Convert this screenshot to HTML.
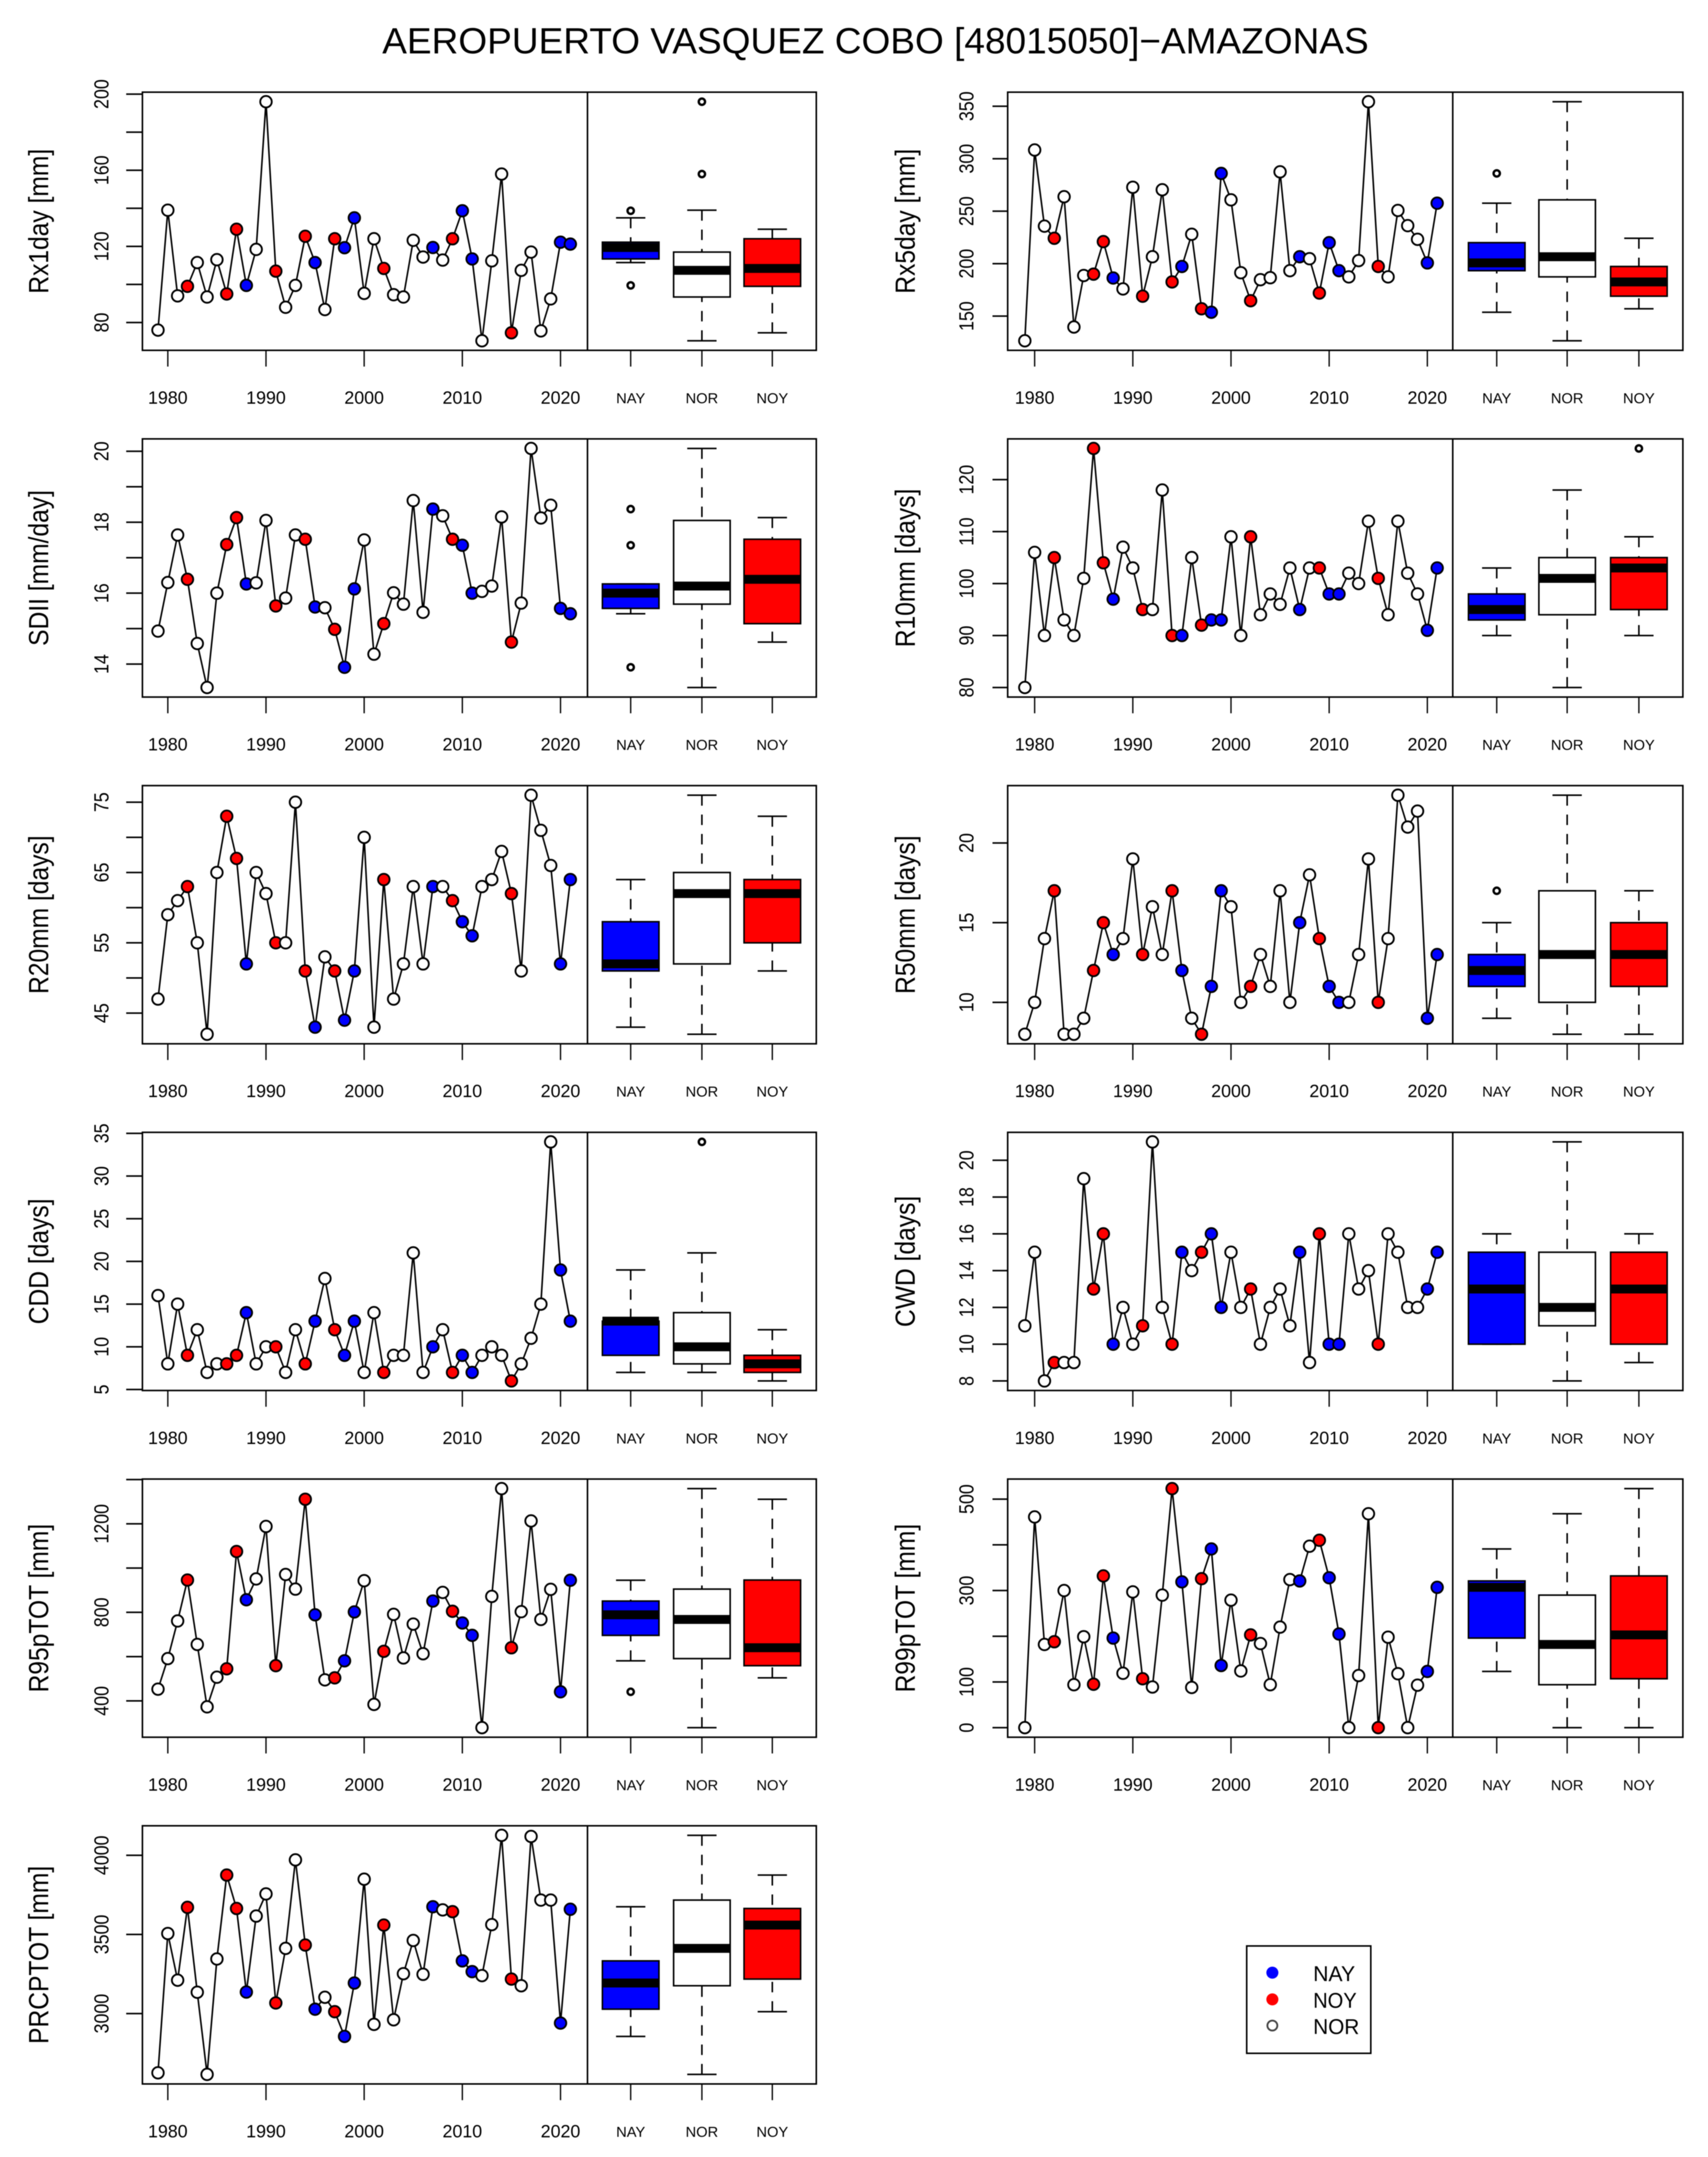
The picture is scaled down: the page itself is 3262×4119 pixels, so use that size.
<!DOCTYPE html>
<html lang="en">
<head>
<meta charset="utf-8">
<title>AEROPUERTO VASQUEZ COBO [48015050]-AMAZONAS</title>
<style>
html,body{margin:0;padding:0;background:#fff;width:3262px;height:4119px;overflow:hidden}
svg{display:block;filter:blur(0.8px)}
text{font-family:"Liberation Sans",Arial,sans-serif;fill:#000}
</style>
</head>
<body>
<svg id="chart" xmlns="http://www.w3.org/2000/svg" width="3262" height="4119" viewBox="0 0 3262 4119">
<rect x="0" y="0" width="3262" height="4119" fill="#fff"/>
<text x="730" y="102" font-size="70" textLength="1884" lengthAdjust="spacingAndGlyphs">AEROPUERTO VASQUEZ COBO [48015050]−AMAZONAS</text>
<g>
<rect x="2381" y="3716" width="237" height="205" fill="#fff" stroke="#000" stroke-width="3"/>
<circle cx="2430" cy="3767" r="11.5" fill="#0000ff"/>
<circle cx="2430" cy="3818" r="11.5" fill="#ff0000"/>
<circle cx="2430" cy="3868" r="9.5" fill="#fff" stroke="#444" stroke-width="3.5"/>
<text x="2508" y="3783" font-size="41" textLength="80" lengthAdjust="spacingAndGlyphs">NAY</text>
<text x="2508" y="3834" font-size="41" textLength="83" lengthAdjust="spacingAndGlyphs">NOY</text>
<text x="2508" y="3884" font-size="41" textLength="88" lengthAdjust="spacingAndGlyphs">NOR</text>
</g>
</svg>
<script>
var years = [1979,1980,1981,1982,1983,1984,1985,1986,1987,1988,1989,1990,1991,1992,1993,1994,1995,1996,1997,1998,1999,2000,2001,2002,2003,2004,2005,2006,2007,2008,2009,2010,2011,2012,2013,2014,2015,2016,2017,2018,2019,2020,2021];
var enso = ["NOR","NOR","NOR","NOY","NOR","NOR","NOR","NOY","NOY","NAY","NOR","NOR","NOY","NOR","NOR","NOY","NAY","NOR","NOY","NAY","NAY","NOR","NOR","NOY","NOR","NOR","NOR","NOR","NAY","NOR","NOY","NAY","NAY","NOR","NOR","NOR","NOY","NOR","NOR","NOR","NOR","NAY","NAY"];
var yearTicks = [1980,1990,2000,2010,2020];
var boxGroups = ["NAY","NOR","NOY"];

var rx1dayValues = [76,139,94,99,111.5,93.4,113,95,129,99.5,118.4,196,107,88,99.5,125.3,111.5,86.8,124,119.3,135,95.3,124,108.4,94.6,93.4,123.2,114.4,119.4,112.8,124,138.7,113.4,70.4,112.4,158,74.6,107.4,117,75.6,92.4,122.2,121.2];
var rx1dayTicks = [80,100,120,140,160,180,200];
var rx1dayLabels = [80,120,160,200];

var rx5dayValues = [126.5,308.3,235.7,224.2,263.8,139.6,188.7,190,221,186.3,175.9,272.8,169,206.6,270.4,182.6,197.3,228,157,153.7,286,260.8,191.4,164.7,184.7,186.6,287.5,193.3,206.6,204.7,172,220,193.3,187.4,202.9,354.3,197.3,187.4,250.7,236.2,223.2,200.7,257.6];
var rx5dayTicks = [150,200,250,300,350];
var rx5dayLabels = [150,200,250,300,350];

var sdiiValues = [14.93,16.30,17.64,16.39,14.58,13.34,16.0,17.37,18.13,16.26,16.29,18.05,15.64,15.86,17.64,17.52,15.61,15.59,14.98,13.91,16.12,17.50,14.28,15.14,16.01,15.69,18.61,15.46,18.37,18.18,17.52,17.35,16.0,16.05,16.2,18.15,14.62,15.72,20.08,18.12,18.48,15.57,15.42];
var sdiiTicks = [14,15,16,17,18,19,20];
var sdiiLabels = [14,16,18,20];

var r10mmValues = [80,106,90,105,93,90,101,126,104,97,107,103,95,95,118,90,90,105,92,93,93,109,90,109,94,98,96,103,95,103,103,98,98,102,100,112,101,94,112,102,98,91,103];
var r10mmTicks = [80,90,100,110,120];
var r10mmLabels = [80,90,100,110,120];

var r20mmValues = [47,59,61,63,55,42,65,73,67,52,65,62,55,55,75,51,43,53,51,44,51,70,43,64,47,52,63,52,63,63,61,58,56,63,64,68,62,51,76,71,66,52,64];
var r20mmTicks = [45,50,55,60,65,70,75];
var r20mmLabels = [45,55,65,75];

var r50mmValues = [8,10,14,17,8,8,9,12,15,13,14,19,13,16,13,17,12,9,8,11,17,16,10,11,13,11,17,10,15,18,14,11,10,10,13,19,10,14,23,21,22,9,13];
var r50mmTicks = [10,15,20];
var r50mmLabels = [10,15,20];

var cddValues = [16,8,15,9,12,7,8,8,9,14,8,10,10,7,12,8,13,18,12,9,13,7,14,7,9,9,21,7,10,12,7,9,7,9,10,9,6,8,11,15,34,19,13];
var cddTicks = [5,10,15,20,25,30,35];
var cddLabels = [5,10,15,20,25,30,35];

var cwdValues = [11,15,8,9,9,9,19,13,16,10,12,10,11,21,12,10,15,14,15,16,12,15,12,13,10,12,13,11,15,9,16,10,10,16,13,14,10,16,15,12,12,13,15];
var cwdTicks = [8,10,12,14,16,18,20];
var cwdLabels = [8,10,12,14,16,18,20];

var r95Values = [453,591,761,946,655,373,507,545,1075,857,951,1188,559,971,905,1311,789,495,504,581,802,943,384,624,791,594,747,613,851,890,805,752,696,279,872,1359,640,803,1213,768,904,441,945];
var r95Ticks = [400,600,800,1000,1200,1400];
var r95Labels = [400,800,1200];

var r99Values = [0,461,182,188,300,94,199,95,332,196,119,297,107,89,290,523,319,88,326,391,136,279,124,203,184,94,220,324,321,397,410,328,205,0,114,468,0,198,118,0,93,123,307];
var r99Ticks = [0,100,200,300,400,500];
var r99Labels = [0,100,300,500];

var prcpValues = [2626,3506,3211,3671,3135,2616,3345,3875,3664,3136,3616,3756,3067,3412,3971,3433,3028,3103,3012,2856,3193,3849,2932,3559,2961,3252,3462,3248,3675,3655,3644,3333,3265,3240,3562,4126,3218,3176,4119,3717,3717,2940,3659];
var prcpTicks = [3000,3500,4000];
var prcpLabels = [3000,3500,4000];

var panelList = [
  {id:"rx1day", title:"Rx1day [mm]", values:rx1dayValues, ticks:rx1dayTicks, labels:rx1dayLabels},
  {id:"rx5day", title:"Rx5day [mm]", values:rx5dayValues, ticks:rx5dayTicks, labels:rx5dayLabels},
  {id:"sdii", title:"SDII [mm/day]", values:sdiiValues, ticks:sdiiTicks, labels:sdiiLabels},
  {id:"r10mm", title:"R10mm [days]", values:r10mmValues, ticks:r10mmTicks, labels:r10mmLabels},
  {id:"r20mm", title:"R20mm [days]", values:r20mmValues, ticks:r20mmTicks, labels:r20mmLabels},
  {id:"r50mm", title:"R50mm [days]", values:r50mmValues, ticks:r50mmTicks, labels:r50mmLabels},
  {id:"cdd", title:"CDD [days]", values:cddValues, ticks:cddTicks, labels:cddLabels},
  {id:"cwd", title:"CWD [days]", values:cwdValues, ticks:cwdTicks, labels:cwdLabels},
  {id:"r95ptot", title:"R95pTOT [mm]", values:r95Values, ticks:r95Ticks, labels:r95Labels},
  {id:"r99ptot", title:"R99pTOT [mm]", values:r99Values, ticks:r99Ticks, labels:r99Labels},
  {id:"prcptot", title:"PRCPTOT [mm]", values:prcpValues, ticks:prcpTicks, labels:prcpLabels}
];

var NS = "http://www.w3.org/2000/svg";
var root = document.getElementById("chart");
var fillOf = {NAY:"#0000ff", NOY:"#ff0000", NOR:"#ffffff"};

function make(tag, parent, props) {
  var el = document.createElementNS(NS, tag);
  for (var k in props) { el.setAttribute(k, props[k]); }
  parent.appendChild(el);
  return el;
}

function fivenum(arr) {
  var s = arr.slice().sort(function(a,b){return a-b;});
  var n = s.length;
  var n4 = Math.floor((n + 3) / 2) / 2;
  var d = [1, n4, (n + 1) / 2, n + 1 - n4, n];
  return d.map(function(p){ return 0.5 * (s[Math.floor(p) - 1] + s[Math.ceil(p) - 1]); });
}

function boxStats(arr) {
  var f = fivenum(arr);
  var iqr = f[3] - f[1];
  var lo = f[1] - 1.5 * iqr;
  var hi = f[3] + 1.5 * iqr;
  var inside = arr.filter(function(v){ return v >= lo && v <= hi; });
  return {
    low: Math.min.apply(null, inside),
    q1: f[1], med: f[2], q3: f[3],
    high: Math.max.apply(null, inside),
    out: arr.filter(function(v){ return v < lo || v > hi; })
  };
}

function drawPanel(p, index) {
  var col = index % 2;
  var row = Math.floor(index / 2);
  var left = col === 0 ? 272 : 1924.5;
  var width = col === 0 ? 1287 : 1289.5;
  var top = 176 + 662.1 * row;
  var height = 493;
  var bottom = top + height;
  var xZero = col === 0 ? 320.5 : 1976;
  var centers = col === 0 ? [1204.5, 1340.5, 1475] : [2858.5, 2993, 3130];
  var tickLabelX = col === 0 ? 207 : 1859;
  var titleX = col === 0 ? 92 : 1747;
  var tickLeft = col === 0 ? 31 : 29;

  var vMin = Math.min.apply(null, p.values);
  var vMax = Math.max.apply(null, p.values);
  var pad = (vMax - vMin) * 0.04;
  function yScale(v) { return bottom - (v - (vMin - pad)) / ((vMax + pad) - (vMin - pad)) * height; }
  function xScale(yr) { return xZero + (yr - 1980) * 18.75; }

  var g = make("g", root, {});
  
  

  // y ticks
  p.ticks.forEach(function(t) {
    var tick = make("line", g, {x1:left - tickLeft, x2:left, y1:yScale(t), y2:yScale(t), stroke:"#000", "stroke-width":3});
    
    
  });
  p.labels.forEach(function(t) {
    var lab = make("text", g, {"font-size":34, "text-anchor":"middle", transform:"translate(" + tickLabelX + "," + yScale(t) + ") rotate(-90) scale(1,1.15)"});
    lab.textContent = String(t);
    
    
  });

  // y title
  var yt = make("text", g, {"font-size":47, "text-anchor":"middle", transform:"translate(" + titleX + "," + (top + height / 2) + ") rotate(-90) scale(1,1.12)"});
  yt.textContent = p.title;
  
  

  // x ticks, time series side
  yearTicks.forEach(function(yr) {
    var tick = make("line", g, {x1:xScale(yr), x2:xScale(yr), y1:bottom, y2:bottom + 31, stroke:"#000", "stroke-width":2.5});
    
    
    var lab = make("text", g, {x:xScale(yr), y:bottom + 102, "font-size":34, "text-anchor":"middle"});
    lab.textContent = String(yr);
    
    
  });

  // series line
  var pts = p.values.map(function(v, i) { return xScale(years[i]).toFixed(2) + "," + yScale(v).toFixed(2); }).join(" ");
  var line = make("polyline", g, {points:pts, fill:"none", stroke:"#000", "stroke-width":3, "stroke-linejoin":"round"});
  
  

  // series points
  p.values.forEach(function(v, i) {
    var c = make("circle", g, {cx:xScale(years[i]), cy:yScale(v), r:11, fill:fillOf[enso[i]], stroke:"#000", "stroke-width":3.5});
    
    
  });

  // box plots
  boxGroups.forEach(function(name, gi) {
    var vals = p.values.filter(function(v, i) { return enso[i] === name; });
    var st = boxStats(vals);
    var cx = centers[gi];
    var bg = make("g", g, {});
    
    

    var w1 = make("line", bg, {x1:cx, x2:cx, y1:yScale(st.high), y2:yScale(st.q3), stroke:"#000", "stroke-width":3, "stroke-dasharray":"20 17"});
    
    
    var w2 = make("line", bg, {x1:cx, x2:cx, y1:yScale(st.low), y2:yScale(st.q1), stroke:"#000", "stroke-width":3, "stroke-dasharray":"20 17"});
    
    
    var c1 = make("line", bg, {x1:cx - 28, x2:cx + 28, y1:yScale(st.high), y2:yScale(st.high), stroke:"#000", "stroke-width":3});
    
    
    var c2 = make("line", bg, {x1:cx - 28, x2:cx + 28, y1:yScale(st.low), y2:yScale(st.low), stroke:"#000", "stroke-width":3});
    
    
    var rect = make("rect", bg, {x:cx - 54, width:108, y:yScale(st.q3), height:Math.max(0, yScale(st.q1) - yScale(st.q3)), fill:fillOf[name], stroke:"#000", "stroke-width":3});
    
    
    var med = make("line", bg, {x1:cx - 54, x2:cx + 54, y1:yScale(st.med), y2:yScale(st.med), stroke:"#000", "stroke-width":17});
    
    
    st.out.forEach(function(o) {
      var oc = make("circle", bg, {cx:cx, cy:yScale(o), r:6, fill:"#fff", stroke:"#000", "stroke-width":4.5});
      
      
    });

    var tick = make("line", g, {x1:cx, x2:cx, y1:bottom, y2:bottom + 31, stroke:"#000", "stroke-width":2.5});
    
    
    var lab = make("text", g, {x:cx, y:bottom + 101, "font-size":28, "text-anchor":"middle"});
    lab.textContent = name;
    
    
  });

  // frame and divider
  var frame = make("rect", g, {x:left, y:top, width:width, height:height, fill:"none", stroke:"#000", "stroke-width":3});
  
  
  var divider = make("line", g, {x1:left + 850, x2:left + 850, y1:top, y2:bottom, stroke:"#000", "stroke-width":3});
  
  
}

panelList.forEach(drawPanel);
</script>
</body>
</html>
